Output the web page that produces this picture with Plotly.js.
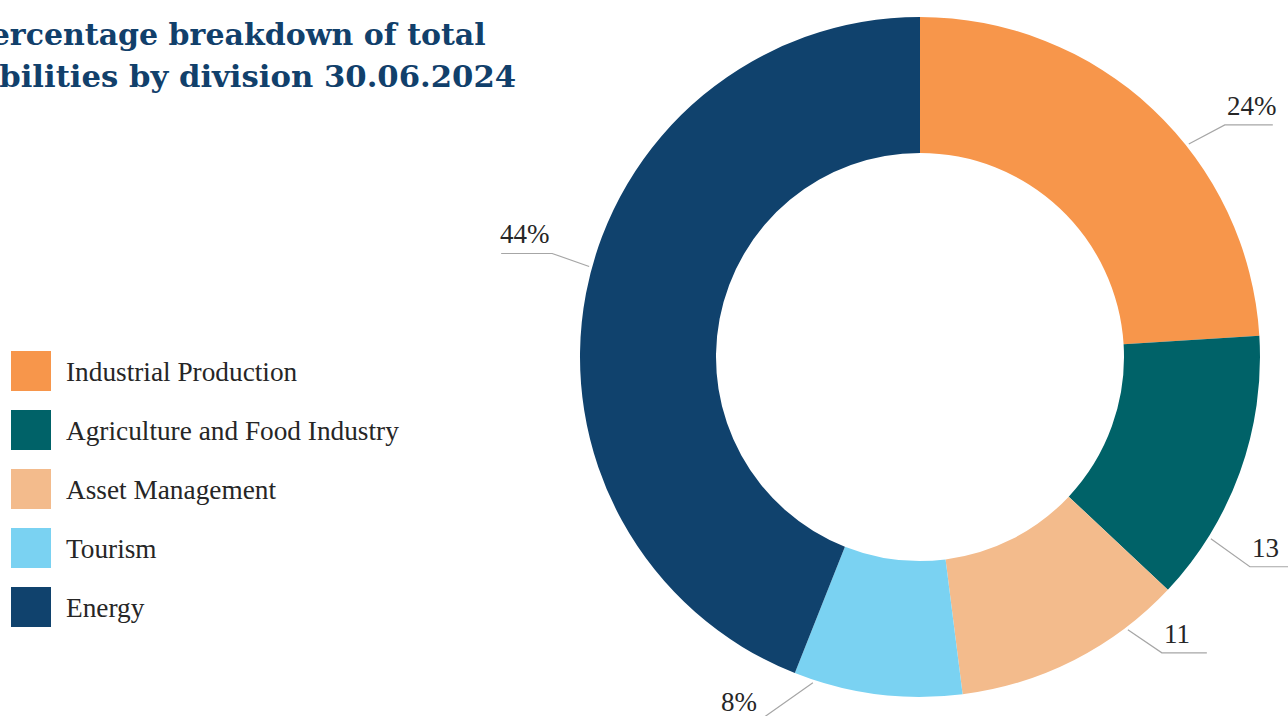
<!DOCTYPE html>
<html><head><meta charset="utf-8">
<script src="https://cdn.plot.ly/plotly-3.0.1.min.js"></script>
<style>html,body{margin:0;padding:0;background:#fff}#chart{width:1288px;height:716px}</style>
</head><body><div id="chart"></div>
<script>
// ---- data ----
const categories = ["Industrial Production", "Agriculture and Food Industry", "Asset Management", "Tourism", "Energy"];
const shares = [24, 13, 11, 8, 44];
const labelTexts = ["24%", "13", "11", "8%", "44%"];
const colors = ["#F7964B", "#006268", "#F3BB8C", "#7AD2F2", "#10426D"];
const titleLines = ["Percentage breakdown of total", "liabilities by division 30.06.2024"];

// ---- layout / styling ----
const W = 1288, H = 716;
const CX = 920, CY = 357, R = 340;
const labelLayout = [
  {nudge: 8.4,  dx: 36,  dy: -19, len: 48, side: 1},
  {nudge: 12.2, dx: 39,  dy: 28,  len: 50, side: 1},
  {nudge: -10.3,dx: 34,  dy: 23,  len: 45, side: 1},
  {nudge: 11,   dx: -54, dy: 38,  len: 45, side: -1},
  {nudge: 4.5,  dx: -37, dy: -13, len: 51, side: -1}
];
const px = x => x / W;
const py = y => 1 - y / H;

const serif = "Liberation Serif, Times New Roman, serif";
const shapes = [], annotations = [];

// leader lines + data labels
const total = shares.reduce((a, b) => a + b, 0);
let cum = 0;
shares.forEach((v, i) => {
  const mid = (cum + v / 2) / total * 360;
  cum += v;
  const L = labelLayout[i];
  const a = (mid + L.nudge) * Math.PI / 180;
  const sx = CX + (R + 3) * Math.sin(a), sy = CY - (R + 3) * Math.cos(a);
  const ex = sx + L.dx, ey = sy + L.dy;
  const fx = ex + L.side * L.len;
  shapes.push({type: 'path', xref: 'paper', yref: 'paper',
    path: `M${px(sx)},${py(sy)} L${px(ex)},${py(ey)} L${px(fx)},${py(ey)}`,
    line: {color: '#A6A6A6', width: 1.2}});
  annotations.push({xref: 'paper', yref: 'paper', x: px(ex + L.side * 1), y: py(ey - 3),
    xanchor: L.side > 0 ? 'left' : 'right', yanchor: 'bottom', showarrow: false,
    text: labelTexts[i], borderpad: 0,
    font: {family: serif, size: 27, color: '#262626'}});
});

// custom legend
categories.forEach((c, i) => {
  const cy = 371 + i * 59;
  shapes.push({type: 'rect', xref: 'paper', yref: 'paper',
    x0: px(11), x1: px(51), y0: py(cy - 20), y1: py(cy + 20),
    fillcolor: colors[i], line: {width: 0}});
  annotations.push({xref: 'paper', yref: 'paper', x: px(65), y: py(cy + 1),
    xanchor: 'left', yanchor: 'middle', showarrow: false, text: c, borderpad: 0,
    font: {family: serif, size: 27.3, color: '#262626'}});
});

// title (cropped at the left edge, as in the reference; anchored by its right end)
const titleRight = [487, 517], titleY = [35, 76], titleSize = [30, 30.7];
titleLines.forEach((t, i) => {
  annotations.push({xref: 'paper', yref: 'paper', x: px(titleRight[i]), y: py(titleY[i]),
    xanchor: 'right', yanchor: 'middle', showarrow: false, text: '<b>' + t + '</b>', borderpad: 0,
    font: {family: "DejaVu Serif, serif", size: titleSize[i], color: '#11406B'}});
});

const trace = {
  type: 'pie', labels: categories, values: shares, sort: false,
  direction: 'clockwise', rotation: 0, hole: 0.6,
  marker: {colors: colors, line: {width: 0}},
  textinfo: 'none', hoverinfo: 'label+percent',
  domain: {x: [(CX - R) / W, (CX + R) / W], y: [(H - CY - R) / H, (H - CY + R) / H]}
};

Plotly.newPlot('chart', [trace], {
  width: W, height: H, margin: {l: 0, r: 0, t: 0, b: 0},
  showlegend: false, paper_bgcolor: '#fff',
  shapes: shapes, annotations: annotations
}, {displayModeBar: false, staticPlot: true});
</script></body></html>
